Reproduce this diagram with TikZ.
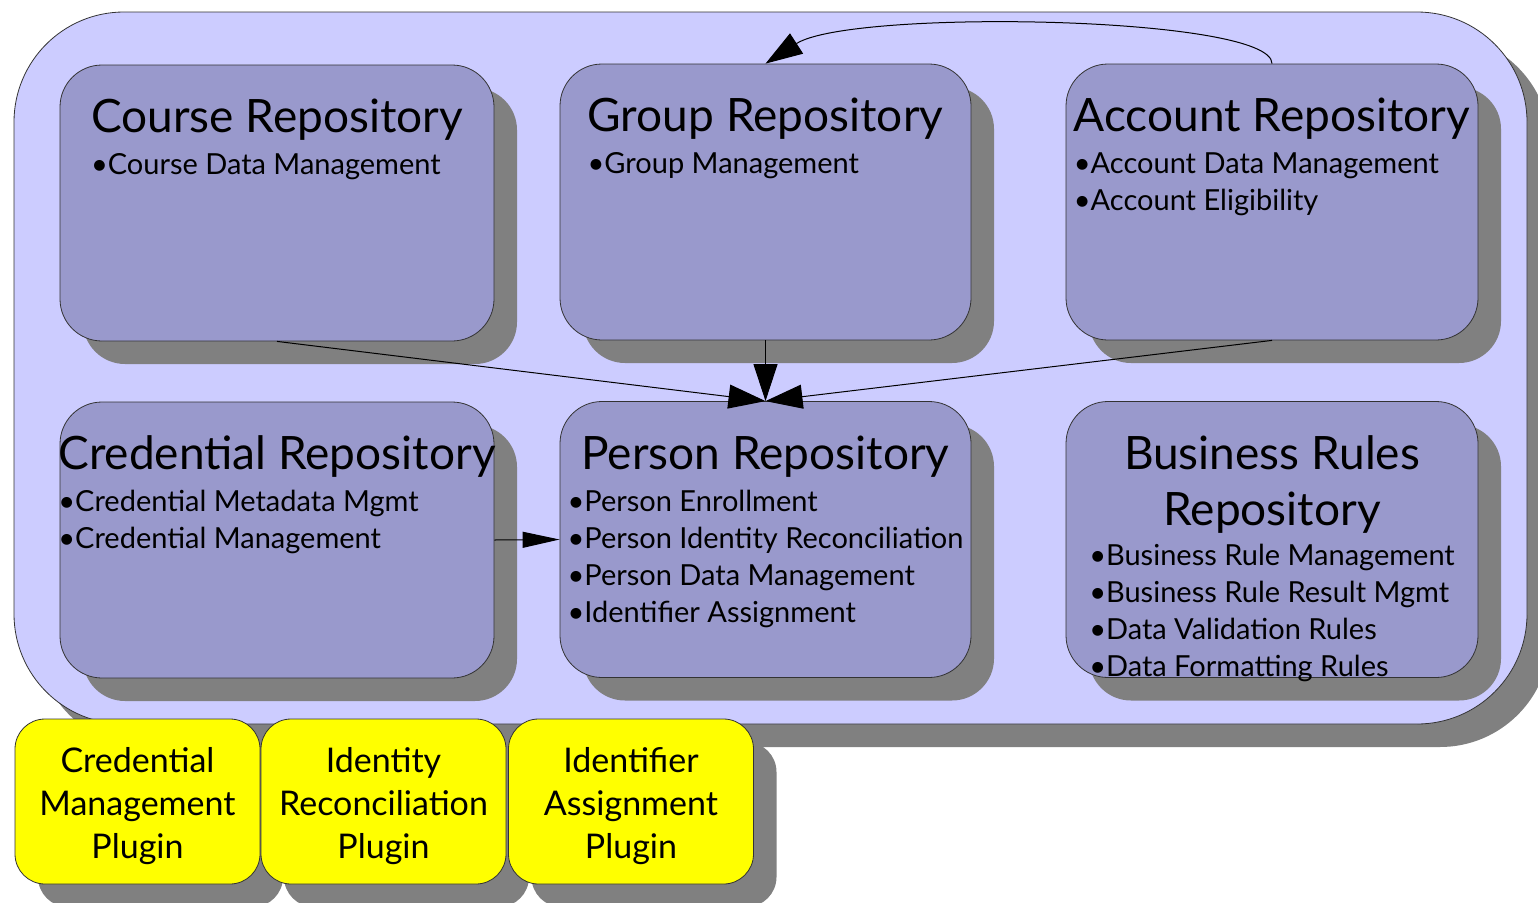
\documentclass[tikz,border=0pt]{standalone}
\usepackage{fontspec}
\setmainfont{Lato}
\usetikzlibrary{arrows.meta,shadows}

\definecolor{platform}{RGB}{204,204,255}
\definecolor{repofill}{RGB}{153,153,204}
\definecolor{shade}{RGB}{128,128,128}
\definecolor{pluginfill}{RGB}{255,255,0}

\newcommand{\titlefont}{\fontsize{46}{52}\selectfont}
\newcommand{\itemfont}{\fontsize{29}{37}\selectfont}

\tikzset{
  dropshade/.style={drop shadow={shadow xshift=23pt, shadow yshift=-23pt, fill=shade, opacity=1}},
  repo/.style={draw=black!80, line width=0.8pt, fill=repofill, rounded corners=42pt,
    minimum height=276pt, dropshade},
  repotext/.style={anchor=base, yshift=-68pt, inner sep=0pt, font=\itemfont},
  plugin/.style={draw=black!80, line width=0.8pt, fill=pluginfill, rounded corners=30pt,
    minimum width=245pt, minimum height=165pt, dropshade},
  plugintext/.style={align=center, yshift=-5pt, inner sep=0pt, font=\fontsize{34}{43}\selectfont},
  arr/.style={line width=1pt, -{Triangle[length=37pt,width=24pt]}}
}

\begin{document}
\begin{tikzpicture}[x=1pt, y=-1pt]
  \useasboundingbox (0,0) rectangle (1538,902);

  % container
  \node[draw=black!80, line width=0.8pt, fill=platform, rounded corners=110pt,
    minimum width=1513pt, minimum height=712pt, dropshade] (platform) at (770.5,368) {};

  % repositories
  \node[repo, minimum width=434pt] (course) at (277,203) {};
  \node[repo, minimum width=411pt] (group) at (765.5,202) {};
  \node[repo, minimum width=412pt] (account) at (1272,202) {};
  \node[repo, minimum width=434pt] (cred) at (277,540) {};
  \node[repo, minimum width=411pt] (person) at (765.5,539.5) {};
  \node[repo, minimum width=412pt] (rules) at (1272,539.5) {};

  \node[repotext] (coursetext) at (course.north) {\begin{tabular}[t]{@{}l@{}}
    \multicolumn{1}{@{}c@{}}{\titlefont Course Repository}\\[5pt]
    •Course Data Management
  \end{tabular}};
  \node[repotext] (grouptext) at (group.north) {\begin{tabular}[t]{@{}l@{}}
    \multicolumn{1}{@{}c@{}}{\titlefont Group Repository}\\[5pt]
    •Group Management
  \end{tabular}};
  \node[repotext] (accounttext) at (account.north) {\begin{tabular}[t]{@{}l@{}}
    \multicolumn{1}{@{}c@{}}{\titlefont Account Repository}\\[5pt]
    •Account Data Management\\
    •Account Eligibility
  \end{tabular}};
  \node[repotext] (credtext) at (cred.north) {\begin{tabular}[t]{@{}l@{}}
    \multicolumn{1}{@{}c@{}}{\titlefont Credential Repository}\\[5pt]
    •Credential Metadata Mgmt\\
    •Credential Management
  \end{tabular}};
  \node[repotext] (persontext) at (person.north) {\begin{tabular}[t]{@{}l@{}}
    \multicolumn{1}{@{}c@{}}{\titlefont Person Repository}\\[5pt]
    •Person Enrollment\\
    •Person Identity Reconciliation\\
    •Person Data Management\\
    •Identifier Assignment
  \end{tabular}};
  \node[repotext] (rulestext) at (rules.north) {\begin{tabular}[t]{@{}l@{}}
    \multicolumn{1}{@{}c@{}}{\titlefont Business Rules}\\[12pt]
    \multicolumn{1}{@{}c@{}}{\titlefont Repository}\\[3pt]
    •Business Rule Management\\
    •Business Rule Result Mgmt\\
    •Data Validation Rules\\
    •Data Formatting Rules
  \end{tabular}};

  % plugins
  \node[plugin] (credplugin) at (137.5,801.5) {};
  \node[plugin] (identityplugin) at (383.5,801.5) {};
  \node[plugin] (identifierplugin) at (631,801.5) {};
  \node[plugintext] at (credplugin) {Credential\\Management\\Plugin};
  \node[plugintext] at (identityplugin) {Identity\\Reconciliation\\Plugin};
  \node[plugintext] at (identifierplugin) {Identifier\\Assignment\\Plugin};

  % dependencies
  \draw[arr] (course.south) -- (person.north);
  \draw[arr] (group.south) -- (person.north);
  \draw[arr] (account.south) -- (person.north);
  \draw[line width=1pt, -{Triangle[length=37pt,width=16pt]}] (cred.east) -- (person.west);
  \draw[arr] (account.north) .. controls +(0,-48) and +(85,-55) .. (group.north);
\end{tikzpicture}
\end{document}
